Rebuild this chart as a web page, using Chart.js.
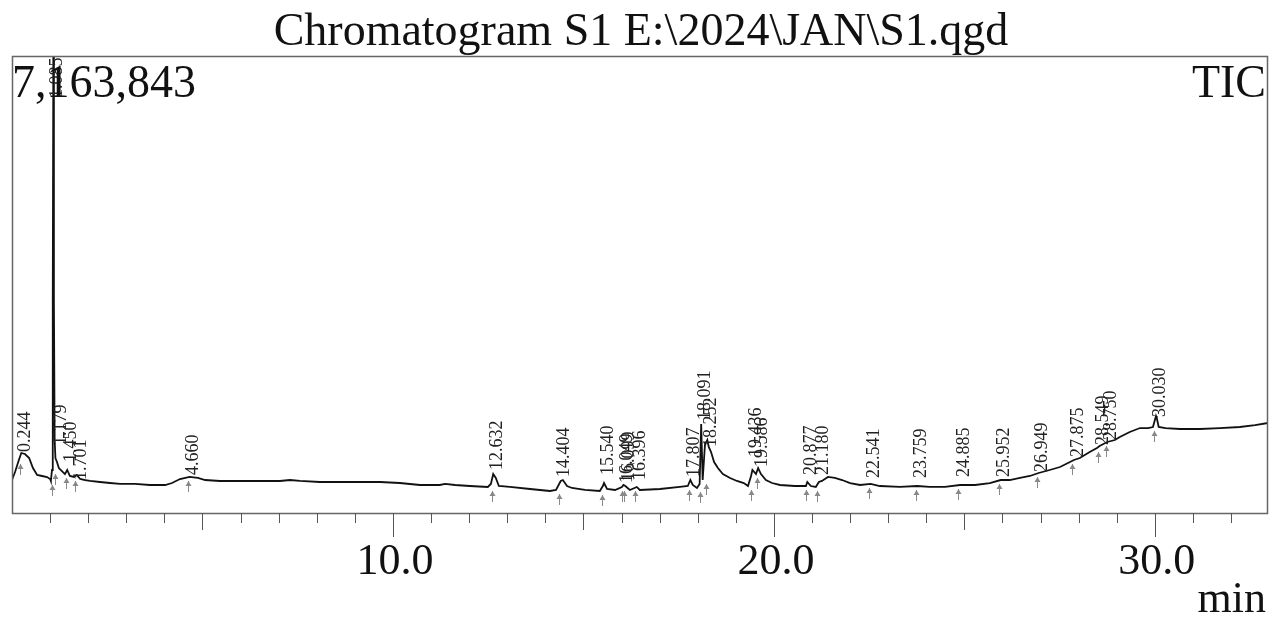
<!DOCTYPE html>
<html>
<head>
<meta charset="utf-8">
<script src="https://cdn.jsdelivr.net/npm/chart.js@4"></script>
<style>
  body { margin: 0; background: #fff; }
  #box { width: 1271px; height: 619px; position: relative; }
</style>
</head>
<body>
<div id="box"><canvas id="grafico"></canvas></div>
<script>
const tempos = [
  0.00, 0.08, 0.18, 0.244, 0.34, 0.45, 0.55, 0.66, 0.79, 0.92,
  1.00, 1.02, 1.05, 1.07, 1.085, 1.10, 1.12, 1.14, 1.18, 1.23,
  1.31, 1.39, 1.45, 1.52, 1.63, 1.70, 1.79, 1.92, 2.05, 2.31,
  2.57, 2.84, 3.23, 3.62, 4.02, 4.20, 4.41, 4.66, 4.88, 5.07,
  5.46, 5.98, 6.51, 7.03, 7.30, 7.56, 8.08, 8.61, 9.13, 9.66,
  10.18, 10.71, 11.23, 11.37, 11.63, 12.02, 12.49, 12.57, 12.632, 12.70,
  12.78, 13.07, 13.60, 14.12, 14.28, 14.404, 14.46, 14.57, 14.70, 15.04,
  15.43, 15.51, 15.54, 15.62, 15.83, 16.01, 16.05, 16.10, 16.22, 16.40,
  16.48, 17.01, 17.53, 17.74, 17.807, 17.87, 17.98, 18.05, 18.091, 18.13,
  18.19, 18.252, 18.29, 18.35, 18.43, 18.53, 18.66, 18.85, 19.03, 19.21,
  19.32, 19.40, 19.436, 19.53, 19.586, 19.66, 19.79, 19.95, 20.16, 20.55,
  20.84, 20.877, 20.97, 21.10, 21.18, 21.26, 21.42, 21.60, 21.79, 22.00,
  22.26, 22.541, 22.78, 23.31, 23.759, 24.09, 24.49, 24.885, 25.28, 25.67,
  25.952, 26.19, 26.46, 26.72, 26.949, 27.24, 27.51, 27.72, 27.875, 28.03,
  28.29, 28.48, 28.549, 28.75, 28.95, 29.08, 29.34, 29.61, 29.82, 29.95,
  30.030, 30.05, 30.10, 30.28, 30.66, 31.18, 31.71, 32.23, 32.63, 32.97
];
const intensidade = [
  517000, 643000, 831000, 941000, 925000, 862000, 705000, 596000, 580000, 564000,
  533000, 502000, 674000, 3339000, 7163843, 3339000, 1144000, 862000, 799000, 705000,
  658000, 611000, 674000, 580000, 565000, 596000, 533000, 517000, 502000, 486000,
  470000, 455000, 455000, 439000, 439000, 470000, 533000, 565000, 549000, 517000,
  502000, 502000, 502000, 502000, 517000, 502000, 486000, 486000, 486000, 486000,
  470000, 439000, 439000, 455000, 439000, 423000, 408000, 455000, 611000, 549000,
  423000, 408000, 376000, 345000, 361000, 502000, 517000, 423000, 392000, 361000,
  345000, 423000, 470000, 376000, 361000, 408000, 439000, 423000, 361000, 408000,
  361000, 376000, 408000, 423000, 517000, 439000, 392000, 455000, 1395000, 517000,
  1066000, 1144000, 1035000, 956000, 799000, 705000, 611000, 549000, 502000, 470000,
  423000, 580000, 674000, 611000, 705000, 611000, 517000, 470000, 439000, 423000,
  423000, 486000, 423000, 408000, 486000, 502000, 565000, 549000, 517000, 470000,
  439000, 455000, 423000, 408000, 423000, 408000, 408000, 439000, 439000, 470000,
  517000, 517000, 549000, 580000, 627000, 674000, 721000, 784000, 831000, 862000,
  956000, 1019000, 1050000, 1113000, 1144000, 1191000, 1270000, 1332000, 1332000, 1348000,
  1521000, 1489000, 1348000, 1332000, 1317000, 1317000, 1332000, 1348000, 1379000, 1411000
];

// picos identificados e altura onde começa o rótulo
const picos = [
  0.244, 1.085, 1.179, 1.450, 1.701, 4.660, 12.632, 14.404, 15.540, 16.049,
  16.099, 16.396, 17.807, 18.091, 18.252, 19.436, 19.586, 20.877, 21.180, 22.541,
  23.759, 24.885, 25.952, 26.949, 27.875, 28.549, 28.750, 30.030
];
const nivelRotulo = [
  956000, 6506000, 1066000, 799000, 517000, 596000, 674000, 564000, 596000, 470000,
  502000, 517000, 564000, 1458000, 1035000, 878000, 721000, 596000, 596000, 549000,
  549000, 564000, 564000, 643000, 878000, 1066000, 1144000, 1505000
];

const tempoMax = 32.97;
const intensMax = 7163843;
const ticksMaiores = [10, 20, 30];

const fonte = '"Liberation Serif", "Times New Roman", serif';

// menor intensidade logo antes do pico (onde fica a seta)
function baseDoPico(t) {
  let menor = Infinity;
  for (let i = 0; i < tempos.length; i++) {
    if (tempos[i] >= t - 0.15 && tempos[i] <= t + 0.02) menor = Math.min(menor, intensidade[i]);
  }
  return menor;
}

const desenhoExtra = {
  id: "desenhoExtra",
  afterDatasetsDraw(chart) {
    const { ctx, scales } = chart;
    const sx = scales.x, sy = scales.y;
    ctx.save();
    // setas de integração
    ctx.strokeStyle = "#888";
    ctx.fillStyle = "#888";
    ctx.lineWidth = 1;
    picos.forEach((t) => {
      const x = Math.round(sx.getPixelForValue(t - 0.04)) + 0.5;
      const y = sy.getPixelForValue(baseDoPico(t)) + 4;
      ctx.beginPath();
      ctx.moveTo(x, y);
      ctx.lineTo(x, y + 11);
      ctx.stroke();
      ctx.beginPath();
      ctx.moveTo(x, y);
      ctx.lineTo(x - 3, y + 5);
      ctx.lineTo(x + 3, y + 5);
      ctx.closePath();
      ctx.fill();
    });
    // rótulos dos picos
    ctx.fillStyle = "#222";
    ctx.font = "18px " + fonte;
    ctx.textAlign = "left";
    ctx.textBaseline = "middle";
    picos.forEach((t, i) => {
      const x = sx.getPixelForValue(t) + 4;
      const y = sy.getPixelForValue(nivelRotulo[i]);
      ctx.save();
      ctx.translate(x, y);
      ctx.rotate(-Math.PI / 2);
      ctx.fillText(t.toFixed(3), 0, 0);
      ctx.restore();
    });
    ctx.restore();
  },
  afterDraw(chart) {
    const { ctx, chartArea, scales } = chart;
    const sx = scales.x;
    const { left, top, right, bottom } = chartArea;
    ctx.save();
    // moldura
    ctx.strokeStyle = "#666";
    ctx.lineWidth = 1.5;
    ctx.strokeRect(left + 0.5, top + 0.5, right - left - 1, bottom - top);
    // marcas do eixo x
    ctx.strokeStyle = "#555";
    ctx.lineWidth = 1;
    for (let m = 1; m <= Math.floor(tempoMax); m++) {
      const x = Math.round(sx.getPixelForValue(m)) + 0.5;
      const tam = m % 10 === 0 ? 24 : m % 5 === 0 ? 17 : 10;
      ctx.beginPath();
      ctx.moveTo(x, bottom);
      ctx.lineTo(x, bottom + tam);
      ctx.stroke();
    }
    ctx.fillStyle = "#111";
    ctx.font = "44px " + fonte;
    ctx.textAlign = "center";
    ctx.textBaseline = "alphabetic";
    ticksMaiores.forEach((v) => {
      ctx.fillText(v.toFixed(1), sx.getPixelForValue(v) + 2, 574);
    });
    ctx.textAlign = "right";
    ctx.fillText("min", 1266, 612);
    // títulos
    ctx.font = "46px " + fonte;
    ctx.textAlign = "center";
    ctx.fillText("Chromatogram S1 E:\\2024\\JAN\\S1.qgd", 641, 45);
    ctx.textAlign = "left";
    ctx.fillText(intensMax.toLocaleString("en-US"), 12, 97);
    ctx.textAlign = "right";
    ctx.fillText("TIC", 1266, 97);
    ctx.restore();
  },
};

new Chart(document.getElementById("grafico"), {
  type: "line",
  data: {
    datasets: [
      {
        data: tempos.map((t, i) => ({ x: t, y: intensidade[i] })),
        borderColor: "#111",
        borderWidth: 1.8,
        pointRadius: 0,
        tension: 0,
        fill: false,
      },
    ],
  },
  options: {
    responsive: true,
    maintainAspectRatio: false,
    animation: false,
    layout: { padding: { left: 12, top: 56, right: 3, bottom: 106 } },
    scales: {
      x: { type: "linear", min: 0, max: tempoMax, display: false },
      y: { min: 0, max: intensMax, display: false },
    },
    plugins: { legend: { display: false }, tooltip: { enabled: false } },
  },
  plugins: [desenhoExtra],
});
</script>
</body>
</html>
